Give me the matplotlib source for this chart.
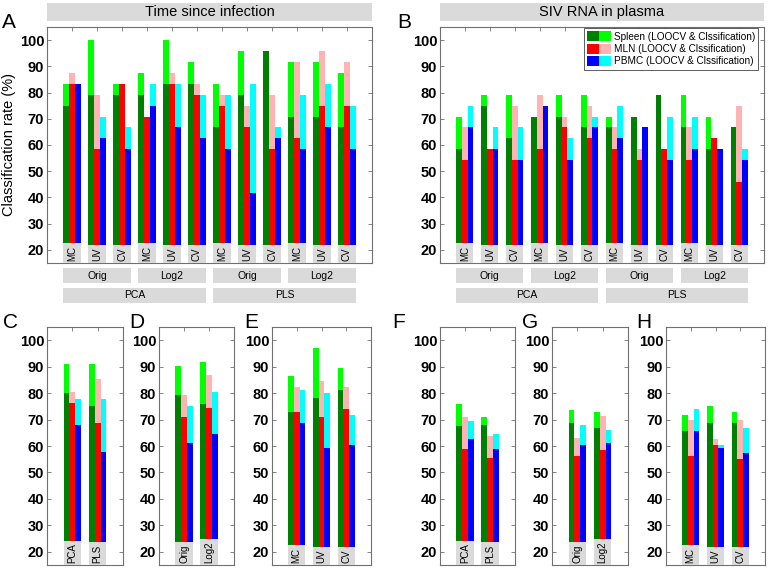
import numpy as np
import matplotlib
matplotlib.use("Agg")
import matplotlib.pyplot as plt
from matplotlib.patches import Patch, Rectangle
from matplotlib.legend_handler import HandlerTuple
from matplotlib.transforms import blended_transform_factory

plt.rcParams['font.family'] = ['Liberation Sans', 'DejaVu Sans']

# ---- data (%), 12 groups: PCA/PLS x Orig/Log2 x MC/UV/CV ----
scale_labels = ["MC", "UV", "CV"] * 4
transform_labels = ["Orig", "Log2", "Orig", "Log2"]
method_labels = ["PCA", "PLS"]

time_spleen_loo = [75.0, 79.2, 79.2, 79.2, 83.3, 83.3, 66.7, 79.2, 95.8, 70.8, 70.8, 66.7]
time_spleen_cls = [83.3, 100.0, 83.3, 87.5, 100.0, 91.7, 83.3, 95.8, 95.8, 91.7, 91.7, 87.5]
time_mln_loo = [83.3, 58.3, 83.3, 70.8, 83.3, 79.2, 75.0, 66.7, 58.3, 62.5, 75.0, 75.0]
time_mln_cls = [87.5, 79.2, 83.3, 70.8, 87.5, 83.3, 79.2, 75.0, 79.2, 91.7, 95.8, 91.7]
time_pbmc_loo = [83.3, 62.5, 58.3, 75.0, 66.7, 62.5, 58.3, 41.7, 62.5, 58.3, 66.7, 58.3]
time_pbmc_cls = [83.3, 70.8, 66.7, 83.3, 83.3, 79.2, 79.2, 83.3, 66.7, 79.2, 83.3, 75.0]

siv_spleen_loo = [58.3, 75.0, 62.5, 70.8, 70.8, 66.7, 66.7, 70.8, 79.2, 66.7, 58.3, 66.7]
siv_spleen_cls = [70.8, 79.2, 79.2, 70.8, 79.2, 79.2, 70.8, 70.8, 79.2, 79.2, 70.8, 66.7]
siv_mln_loo = [54.2, 58.3, 54.2, 58.3, 66.7, 62.5, 58.3, 54.2, 58.3, 54.2, 62.5, 45.8]
siv_mln_cls = [66.7, 58.3, 75.0, 79.2, 70.8, 75.0, 66.7, 58.3, 58.3, 66.7, 62.5, 75.0]
siv_pbmc_loo = [66.7, 58.3, 54.2, 75.0, 54.2, 66.7, 62.5, 66.7, 54.2, 58.3, 58.3, 54.2]
siv_pbmc_cls = [75.0, 66.7, 66.7, 75.0, 62.5, 70.8, 75.0, 66.7, 70.8, 70.8, 58.3, 58.3]

# summaries: C/F by method, D/G by transform, E/H by scaling
method_ticks = ["PCA", "PLS"]
transform_ticks = ["Orig", "Log2"]
scale_ticks = ["MC", "UV", "CV"]

c_loo = [[79.9, 75.0], [76.4, 68.8], [68.1, 57.6]]
c_cls = [[91.0, 91.0], [80.6, 85.4], [77.8, 77.8]]
d_loo = [[79.2, 75.7], [70.8, 74.3], [61.1, 64.6]]
d_cls = [[90.3, 91.7], [79.2, 86.8], [75.0, 80.6]]
e_loo = [[72.9, 78.1, 81.3], [72.9, 70.8, 74.0], [68.8, 59.4, 60.4]]
e_cls = [[86.5, 96.9, 89.6], [82.3, 84.4, 82.3], [81.3, 80.2, 71.9]]

f_loo = [[67.4, 68.1], [59.0, 55.6], [62.5, 59.0]]
f_cls = [[75.7, 70.8], [70.8, 63.9], [69.4, 64.6]]
g_loo = [[68.8, 66.7], [56.3, 58.3], [60.4, 61.1]]
g_cls = [[73.6, 72.9], [63.2, 71.5], [68.1, 66.0]]
h_loo = [[65.6, 68.8, 68.8], [56.3, 60.4, 55.2], [65.6, 59.4, 57.3]]
h_cls = [[71.9, 75.0, 72.9], [69.8, 62.5, 69.8], [74.0, 60.4, 66.7]]

legend_labels = ["Spleen (LOOCV & Clssification)",
                 "MLN (LOOCV & Clssification)",
                 "PBMC (LOOCV & Clssification)"]

DARK = ['#008000', '#ff0000', '#0000ff']
LIGHT = ['#00ff00', '#ffb3b3', '#00ffff']
GRAY = '#dadada'
EDGE = '#707070'
BW = 0.227

W, H = 768, 568
fig = plt.figure(figsize=(W / 100, H / 100), dpi=100)
renderer = fig.canvas.get_renderer()


def px_axes(left, top, right, bottom):
    return fig.add_axes([left / W, 1 - bottom / H, (right - left) / W, (bottom - top) / H])


def bar_panel(ax, labels, loo, cls):
    x = np.arange(len(labels))
    for k in range(3):
        pos = x + (k - 1) * BW
        ax.bar(pos, cls[k], BW, color=LIGHT[k], linewidth=0, zorder=2)
        ax.bar(pos, loo[k], BW, color=DARK[k], linewidth=0, zorder=3)
    ax.set_xlim(-1, len(labels))
    ax.set_ylim(15, 105)
    ax.set_yticks(range(20, 101, 10))
    ax.set_xticks(x)
    ax.tick_params(direction='in', length=3, width=0.6, color=EDGE, top=True, right=True,
                   labelbottom=False, labelsize=10.5, pad=2)
    for lab in ax.get_yticklabels():
        lab.set_fontweight('bold')
    for sp in ax.spines.values():
        sp.set_color(EDGE)
        sp.set_linewidth(0.8)
    # grey tick-label boxes sized to the rotated text
    inv = ax.transData.inverted()
    for xi, lab in zip(x, labels):
        t = ax.text(xi, 15.6, lab, rotation=90, ha='center', va='bottom', fontsize=7,
                    zorder=6)
        bb = t.get_window_extent(renderer)
        top = inv.transform((bb.x1, bb.y1 + 3))[1]
        ax.add_patch(Rectangle((xi - 1.5 * BW, 15), 3 * BW, top - 15, fc=GRAY,
                               ec='none', zorder=5))


def group_boxes(ax):
    trans = blended_transform_factory(ax.transData, ax.transAxes)
    rows = [(transform_labels, 3, -0.085), (method_labels, 6, -0.169)]
    for labels, size, y0 in rows:
        for i, lab in enumerate(labels):
            x0 = i * size - 1.5 * BW
            x1 = (i + 1) * size - 1 + 1.5 * BW
            ax.add_patch(Rectangle((x0, y0), x1 - x0, 0.064, transform=trans,
                                   fc=GRAY, ec='none', clip_on=False))
            ax.text((x0 + x1) / 2, y0 + 0.032, lab, transform=trans, ha='center',
                    va='center', fontsize=7.5)


def title_bar(ax, text):
    ax.add_patch(Rectangle((0, 1.025), 1, 0.077, transform=ax.transAxes,
                           fc=GRAY, ec='none', clip_on=False))
    ax.text(0.5, 1.0635, text, transform=ax.transAxes, ha='center', va='center',
            fontsize=10.5)


# top panels
ax_a = px_axes(47, 27, 372, 263)
bar_panel(ax_a, scale_labels,
          [time_spleen_loo, time_mln_loo, time_pbmc_loo],
          [time_spleen_cls, time_mln_cls, time_pbmc_cls])
group_boxes(ax_a)
title_bar(ax_a, "Time since infection")
ax_a.set_ylabel("Classification rate (%)", fontsize=10.5, labelpad=3)

ax_b = px_axes(440, 27, 764, 263)
bar_panel(ax_b, scale_labels,
          [siv_spleen_loo, siv_mln_loo, siv_pbmc_loo],
          [siv_spleen_cls, siv_mln_cls, siv_pbmc_cls])
group_boxes(ax_b)
title_bar(ax_b, "SIV RNA in plasma")

handles = [(Patch(fc=DARK[k], lw=0), Patch(fc=LIGHT[k], lw=0)) for k in range(3)]
leg = ax_b.legend(handles, legend_labels, handler_map={tuple: HandlerTuple(ndivide=None, pad=0)},
                  loc='upper right', bbox_to_anchor=(1 - 6 / 324, 1 - 1 / 236),
                  borderaxespad=0, fontsize=7.2, fancybox=False, framealpha=1,
                  edgecolor='#444444', borderpad=0.3, labelspacing=0.2,
                  handlelength=2.4, handleheight=1.2, handletextpad=0.3)
leg.get_frame().set_linewidth(0.6)
leg.set_zorder(10)

# bottom panels
bottom = [
    ((47, 123), method_ticks, c_loo, c_cls),
    ((159, 234), transform_ticks, d_loo, d_cls),
    ((272, 371), scale_ticks, e_loo, e_cls),
    ((440, 515), method_ticks, f_loo, f_cls),
    ((552, 628), transform_ticks, g_loo, g_cls),
    ((666, 765), scale_ticks, h_loo, h_cls),
]
for (l, r), ticks, loo, cls in bottom:
    ax = px_axes(l, 327, r, 565)
    bar_panel(ax, ticks, loo, cls)

# panel letters
letters = [("A", 2, 22), ("B", 397, 22), ("C", 3, 322), ("D", 129, 322), ("E", 244, 322),
           ("F", 392, 322), ("G", 522, 322), ("H", 636, 322)]
for t, x, y in letters:
    fig.text(x / W, 1 - y / H, t, fontsize=15, ha='left', va='center')

fig.savefig("out.png", dpi=100)
